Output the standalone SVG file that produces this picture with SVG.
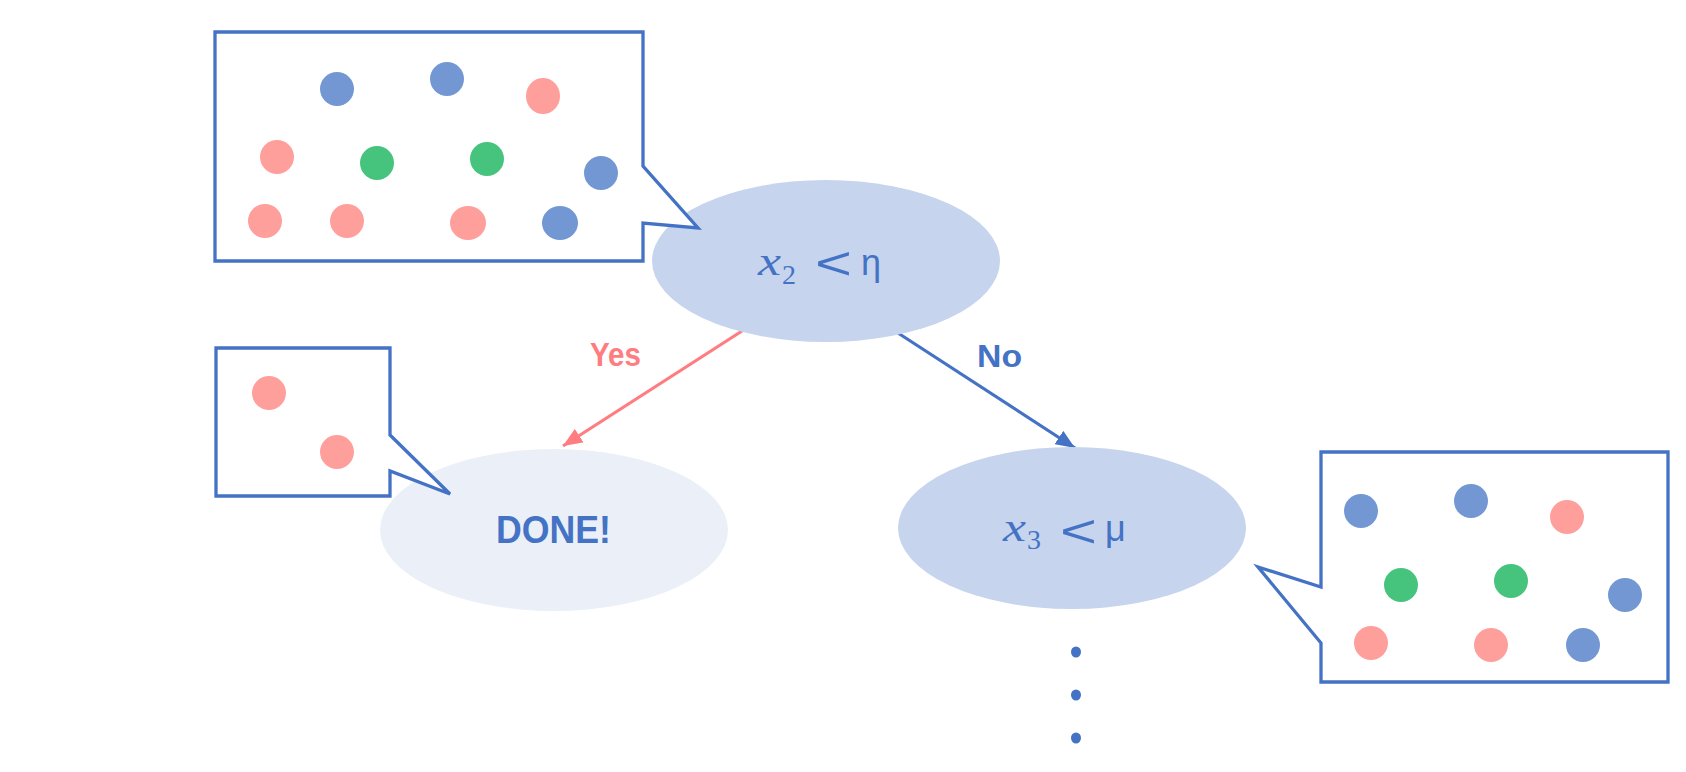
<svg xmlns="http://www.w3.org/2000/svg" width="1686" height="772" viewBox="0 0 1686 772">
<defs>
<style>
.callout{fill:#FFFFFF;stroke:#4472C4;stroke-width:3.3;stroke-linejoin:miter}
.b{fill:#7397D3}
.p{fill:#FF9F9B}
.g{fill:#46C47D}
.node{fill:#C6D4EE}
.done{fill:#EBEFF8}
.lbl{font-family:"Liberation Sans",Arial,sans-serif;font-weight:bold}
.math{font-family:"Liberation Serif","DejaVu Serif",serif;fill:#4472C4}
.sym{font-family:"Liberation Sans","DejaVu Sans",sans-serif;fill:#4472C4}
</style>
<marker id="arrRed" viewBox="0 0 6 5" refX="6" refY="2.5" markerWidth="6" markerHeight="5" orient="auto" markerUnits="strokeWidth">
<path d="M0,0 L6,2.5 L0,5 Z" fill="#FF7C80"/>
</marker>
<marker id="arrBlue" viewBox="0 0 6 5" refX="6" refY="2.5" markerWidth="6" markerHeight="5" orient="auto" markerUnits="strokeWidth">
<path d="M0,0 L6,2.5 L0,5 Z" fill="#4472C4"/>
</marker>
</defs>
<rect width="1686" height="772" fill="#FFFFFF"/>

<g id="connectors">
<line x1="742" y1="331" x2="563" y2="446" stroke="#FF7C80" stroke-width="3.2" marker-end="url(#arrRed)"/>
<line x1="898" y1="333" x2="1075" y2="448" stroke="#4472C4" stroke-width="3.2" marker-end="url(#arrBlue)"/>
<text class="lbl" x="590" y="366" font-size="33" fill="#FF7C80" textLength="51" lengthAdjust="spacingAndGlyphs">Yes</text>
<text class="lbl" x="977" y="367" font-size="31" fill="#4472C4" textLength="45" lengthAdjust="spacingAndGlyphs">No</text>
</g>

<g id="root-node">
<ellipse class="node" cx="826" cy="261" rx="174" ry="81"/>
<text class="math" x="758" y="275" font-size="42" font-style="italic" textLength="23" lengthAdjust="spacingAndGlyphs">x</text>
<text class="math" x="782" y="284" font-size="28">2</text>
<text class="sym" x="815" y="279" font-size="47" textLength="37" lengthAdjust="spacingAndGlyphs">&lt;</text>
<text class="sym" x="861" y="275" font-size="36">η</text>
</g>

<g id="root-callout">
<path class="callout" d="M215,32 H643 V166 L698,228 L643,223 V261 H215 Z"/>
<ellipse class="b" cx="337" cy="89" rx="17" ry="17"/>
<ellipse class="b" cx="447" cy="79" rx="17" ry="17"/>
<ellipse class="p" cx="543" cy="96" rx="17" ry="18"/>
<ellipse class="p" cx="277" cy="157" rx="17" ry="17"/>
<ellipse class="g" cx="377" cy="163" rx="17" ry="17"/>
<ellipse class="g" cx="487" cy="159" rx="17" ry="17"/>
<ellipse class="b" cx="601" cy="173" rx="17" ry="17"/>
<ellipse class="p" cx="265" cy="221" rx="17" ry="17"/>
<ellipse class="p" cx="347" cy="221" rx="17" ry="17"/>
<ellipse class="p" cx="468" cy="223" rx="18" ry="17"/>
<ellipse class="b" cx="560" cy="223" rx="18" ry="17"/>
</g>

<g id="done-node">
<ellipse class="done" cx="554" cy="530" rx="174" ry="81"/>
<text class="lbl" x="496" y="543" font-size="39" fill="#4472C4" textLength="115" lengthAdjust="spacingAndGlyphs">DONE!</text>
</g>

<g id="done-callout">
<path class="callout" d="M216,348 H390 V435 L450,494 L390,471 V496 H216 Z"/>
<ellipse class="p" cx="269" cy="393" rx="17" ry="17"/>
<ellipse class="p" cx="337" cy="452" rx="17" ry="17"/>
</g>

<g id="x3-node">
<ellipse class="node" cx="1072" cy="528" rx="174" ry="81"/>
<text class="math" x="1003" y="541" font-size="42" font-style="italic" textLength="23" lengthAdjust="spacingAndGlyphs">x</text>
<text class="math" x="1027" y="549" font-size="28">3</text>
<text class="sym" x="1060" y="547" font-size="47" textLength="37" lengthAdjust="spacingAndGlyphs">&lt;</text>
<text class="sym" x="1105" y="541" font-size="36">μ</text>
</g>

<g id="x3-callout">
<path class="callout" d="M1321,452 H1668 V682 H1321 V643 L1258,567 L1321,587 Z"/>
<ellipse class="b" cx="1361" cy="511" rx="17" ry="17"/>
<ellipse class="b" cx="1471" cy="501" rx="17" ry="17"/>
<ellipse class="p" cx="1567" cy="517" rx="17" ry="17"/>
<ellipse class="g" cx="1401" cy="585" rx="17" ry="17"/>
<ellipse class="g" cx="1511" cy="581" rx="17" ry="17"/>
<ellipse class="b" cx="1625" cy="595" rx="17" ry="17"/>
<ellipse class="p" cx="1371" cy="643" rx="17" ry="17"/>
<ellipse class="p" cx="1491" cy="645" rx="17" ry="17"/>
<ellipse class="b" cx="1583" cy="645" rx="17" ry="17"/>
</g>

<g id="ellipsis">
<ellipse cx="1076" cy="652" rx="5" ry="5.5" fill="#4472C4"/>
<ellipse cx="1076" cy="695" rx="5" ry="5.5" fill="#4472C4"/>
<ellipse cx="1076" cy="738" rx="5" ry="5.5" fill="#4472C4"/>
</g>
</svg>
